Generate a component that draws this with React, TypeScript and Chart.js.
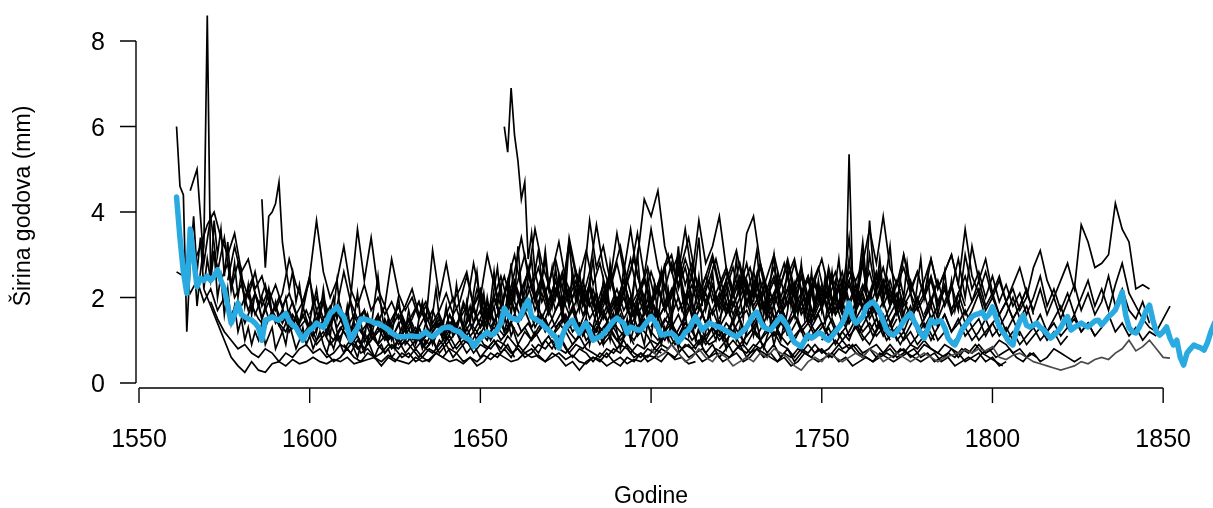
import React, { useEffect, useRef } from "react";
import { Chart, registerables } from "chart.js";

Chart.register(...registerables);

// ---- axis ticks ----
const xTickYears = [1550, 1600, 1650, 1700, 1750, 1800, 1850];
const yTickValues = [0, 2, 4, 6, 8];
const xTitle = "Godine";
const yTitle = "Širina godova (mm)";

// ---- mean chronology (blue), yearly from meanStart ----
const meanStart = 1561;
const meanValues = [
  4.35, 3.4, 2.6, 2.1, 3.6, 2.9, 2.25, 2.45, 2.4, 2.5,
  2.4, 2.5, 2.65, 2.4, 2.2, 1.8, 1.4, 1.6, 1.87, 1.6,
  1.55, 1.5, 1.47, 1.4, 1.3, 1.0, 1.47, 1.5, 1.55, 1.5,
  1.47, 1.55, 1.63, 1.45, 1.35, 1.3, 1.15, 1.0, 1.15, 1.24,
  1.3, 1.4, 1.35, 1.3, 1.45, 1.63, 1.7, 1.78, 1.65, 1.55,
  1.3, 1.0, 1.15, 1.3, 1.5, 1.5, 1.47, 1.45, 1.4, 1.4,
  1.35, 1.3, 1.25, 1.17, 1.12, 1.08, 1.08, 1.08, 1.1, 1.1,
  1.09, 1.08, 1.14, 1.2, 1.12, 1.08, 1.15, 1.22, 1.29, 1.3,
  1.31, 1.25, 1.22, 1.19, 1.1, 1.05, 1.0, 0.85, 0.95, 1.05,
  1.12, 1.19, 1.12, 1.15, 1.25, 1.4, 1.75, 1.6, 1.52, 1.5,
  1.47, 1.6, 1.8, 1.94, 1.55, 1.5, 1.45, 1.4, 1.3, 1.24,
  1.15, 1.08, 0.82, 1.1, 1.31, 1.4, 1.47, 1.3, 1.17, 1.3,
  1.4, 1.2, 1.0, 1.05, 1.08, 1.15, 1.24, 1.35, 1.45, 1.52,
  1.45, 1.4, 1.17, 1.31, 1.28, 1.24, 1.24, 1.35, 1.45, 1.55,
  1.45, 1.31, 1.12, 1.14, 1.16, 1.17, 1.1, 0.96, 1.05, 1.19,
  1.24, 1.4, 1.55, 1.4, 1.24, 1.32, 1.4, 1.37, 1.33, 1.31,
  1.27, 1.22, 1.17, 1.12, 1.08, 1.15, 1.22, 1.31, 1.45, 1.6,
  1.66, 1.45, 1.31, 1.27, 1.24, 1.35, 1.45, 1.55, 1.45, 1.31,
  1.1, 0.95, 0.9, 0.85, 1.0, 1.12, 1.05, 1.1, 1.17, 1.15,
  1.05, 1.0, 1.1, 1.2, 1.3, 1.4, 1.6, 1.87, 1.55, 1.4,
  1.47, 1.55, 1.78, 1.85, 1.9, 1.8, 1.66, 1.45, 1.24, 1.15,
  1.12, 1.2, 1.31, 1.45, 1.55, 1.63, 1.45, 1.31, 1.17, 1.05,
  1.25, 1.47, 1.4, 1.45, 1.45, 1.3, 1.05, 0.95, 0.89, 1.05,
  1.24, 1.35, 1.45, 1.55, 1.6, 1.62, 1.66, 1.52, 1.6, 1.78,
  1.55, 1.31, 1.2, 1.08, 0.95, 0.89, 1.24, 1.45, 1.59, 1.35,
  1.31, 1.35, 1.4, 1.3, 1.24, 1.15, 1.05, 1.12, 1.19, 1.3,
  1.45, 1.55, 1.24, 1.3, 1.35, 1.4, 1.35, 1.31, 1.38, 1.45,
  1.47, 1.36, 1.45, 1.55, 1.62, 1.71, 1.9, 2.13, 1.6, 1.3,
  1.2, 1.17, 1.3, 1.47, 1.7, 1.82, 1.47, 1.2, 1.12, 1.2,
  1.31, 1.05, 0.89, 1.0, 0.6, 0.42, 0.7, 0.8, 0.89, 0.85,
  0.82, 0.77, 0.95, 1.2, 1.4,
];

// ---- individual ring-width series (black) ----
const s01Start = 1561; const s01Step = 1;
const s01 = [6.0, 4.6, 4.4, 1.2, 2.8, 3.9, 2.6, 3.4, 2.2, 2.9, 2.4, 3.1, 2.0, 2.5, 1.6, 2.2, 1.4, 1.8, 1.2, 1.5, 1.0, 1.3, 0.9, 1.2, 1.0, 1.4, 0.9, 1.1, 1.3, 0.8, 1.0, 1.2, 0.9, 1.4, 1.1, 0.8, 1.0, 1.3, 0.9, 1.1, 0.8, 1.0, 1.2, 0.9, 0.7, 1.0, 0.8, 1.1, 0.9, 0.7, 0.9, 1.0, 0.8, 0.6, 0.9, 0.7, 1.0, 0.8, 0.6, 0.8, 0.9, 0.7, 0.8, 0.6, 0.7];

const s02Start = 1561; const s02Step = 2;
const s02 = [2.6, 2.5, 2.1, 2.4, 1.9, 2.2, 1.7, 2.0, 1.6, 1.9, 1.4, 1.8, 1.5, 1.3, 1.7, 1.4, 1.2, 1.6, 1.3, 1.5, 1.1, 1.4, 1.2, 1.0, 1.3, 1.1, 1.4, 1.2, 0.9, 1.1, 1.3, 1.0, 1.2, 0.9, 1.1, 0.8, 1.0, 1.2, 1.4, 1.1, 1.6, 1.3, 1.8, 1.4, 1.2, 1.5, 1.0, 1.3, 1.1, 1.4, 0.9, 1.2, 1.0, 1.3, 1.5, 1.1, 1.4, 1.2, 0.9, 1.1, 1.3, 1.0, 1.2, 1.4, 1.1, 0.9, 1.2, 1.0, 1.3, 1.1, 0.8, 1.0, 1.2, 0.9, 1.1, 1.0, 0.8, 1.1, 0.9, 1.0];

const s03Start = 1565; const s03Step = 2;
const s03 = [4.5, 5.0, 2.8, 3.9, 2.6, 3.4, 2.2, 2.8, 2.0, 2.4, 1.8, 2.3, 1.6, 2.0, 1.5, 1.9, 1.4, 1.7, 1.3, 1.6, 1.2, 1.5, 1.8, 1.3, 1.6, 1.2, 1.4, 1.1, 1.3, 1.0, 1.2, 1.5, 1.1, 1.3, 1.0, 1.2, 1.4, 1.1, 1.6, 1.2, 1.9, 1.5, 2.2, 1.7, 1.3, 1.6, 1.2, 1.4, 1.1, 1.3, 1.0, 1.2, 1.5, 1.1, 1.3, 1.6, 1.2, 1.4, 1.0, 1.2, 0.9, 1.1, 1.3, 1.0, 1.2, 0.9];

const s04Start = 1566; const s04Step = 1;
const s04 = [3.0, 1.8, 2.6, 3.2, 8.6, 2.4, 3.8, 3.0, 3.6, 2.5, 3.3, 2.2, 2.8, 2.0, 2.6, 1.8, 2.3, 1.6, 2.1, 1.9, 1.5, 1.8, 2.2, 1.6, 1.9, 1.4, 1.7, 2.0, 1.5, 1.3, 1.6, 1.4, 1.8, 1.5, 1.2, 1.4, 1.7, 1.3, 1.5, 1.1, 1.4, 1.6, 1.2, 1.0, 1.3, 1.5, 1.2, 1.4, 1.1, 0.9, 1.2, 1.0, 1.3, 1.1, 0.9, 1.2, 1.4, 1.0, 1.2, 0.8, 1.1, 1.3, 0.9, 1.0, 1.2, 0.9, 1.1, 0.8, 1.0, 0.9, 1.1, 0.8, 1.0, 0.9, 0.7];

const s05Start = 1569; const s05Step = 2;
const s05 = [2.2, 1.8, 1.4, 1.0, 0.6, 0.4, 0.25, 0.5, 0.3, 0.25, 0.45, 0.5, 0.4, 0.55, 0.45, 0.5, 0.6, 0.5, 0.45, 0.55, 0.5, 0.6, 0.45, 0.5, 0.55, 0.6, 0.5, 0.65, 0.55, 0.5, 0.45, 0.6, 0.5, 0.55, 0.7, 0.6, 0.5, 0.55, 0.45, 0.6, 0.5, 0.65, 0.55, 0.7, 0.6, 0.5, 0.55, 0.7, 0.6, 0.65, 0.5, 0.6, 0.7, 0.55, 0.65, 0.5, 0.45, 0.6, 0.55, 0.4, 0.5, 0.6, 0.45, 0.55, 0.5, 0.65, 0.6, 0.5, 0.7, 0.55, 0.6, 0.45, 0.5];

const s06Start = 1566; const s06Step = 2;
const s06 = [2.8, 3.2, 3.7, 4.0, 3.4, 3.0, 3.5, 2.6, 2.9, 2.2, 2.5, 1.9, 2.3, 1.8, 2.1, 1.6, 1.9, 2.4, 1.7, 2.0, 1.5, 1.8, 2.6, 1.9, 1.5, 1.7, 1.3, 1.6, 1.2, 1.5, 1.8, 1.4, 1.1, 1.3, 1.6, 1.2, 1.4, 1.0, 1.3, 1.5, 1.1, 1.4, 1.7, 1.3, 2.0, 1.6, 2.4, 1.9, 1.5, 1.8, 1.3, 1.6, 1.2, 1.4, 1.7, 1.3, 1.5, 1.1, 1.4, 1.2, 1.6, 1.3, 1.0, 1.2, 1.5, 1.1, 1.3, 1.6, 1.2, 1.0, 1.3, 1.1, 1.4, 1.2, 0.9, 1.1, 1.3, 1.0, 1.2, 1.4, 1.1, 0.9, 1.2, 1.0, 1.3, 1.1, 1.4, 1.2, 1.0, 1.3];

const s07Start = 1571; const s07Step = 2;
const s07 = [1.9, 1.5, 1.2, 1.0, 0.8, 0.9, 0.7, 0.6, 0.8, 0.7, 0.5, 0.7, 0.6, 0.8, 0.9, 0.7, 0.8, 0.6, 0.7, 0.9, 0.8, 1.0, 0.7, 0.8, 0.6, 0.7, 0.9, 0.8, 0.6, 0.7, 0.5, 0.6, 0.8, 0.7, 0.9, 1.1, 0.8, 1.0, 0.9, 1.2, 0.9, 0.8, 1.0, 0.9, 0.7, 0.8, 0.6, 0.7, 0.9, 0.8, 1.0, 0.8, 0.7, 0.9, 1.1, 0.8, 0.7, 0.6, 0.8, 0.7, 0.9, 0.8, 0.6, 0.7, 0.5, 0.6, 0.8, 0.7, 0.6, 0.8, 0.9, 0.7, 0.8, 0.6, 0.7, 0.5, 0.6, 0.7, 0.5, 0.6, 0.8, 0.7, 0.6, 0.5, 0.7, 0.6, 0.8, 0.7, 0.6, 0.5, 0.6, 0.7, 0.5, 0.6, 0.4, 0.5, 0.6, 0.5, 0.7, 0.6, 0.5, 0.6, 0.7, 0.8, 0.6, 0.7, 0.5, 0.6, 0.7, 0.6, 0.8, 0.7, 0.9, 0.7, 0.8, 0.6, 0.7, 0.8, 0.6, 0.5, 0.7, 0.6];

const s08Start = 1586; const s08Step = 1;
const s08 = [4.3, 2.7, 3.9, 4.0, 4.2, 4.7, 3.3, 2.7, 2.2, 2.6, 1.9, 2.3, 1.7, 2.1, 2.5, 1.8, 2.2, 1.6, 1.9, 1.4, 1.7, 2.0, 1.5, 1.8, 1.3, 1.6, 1.9, 1.4, 1.2, 1.5, 1.7, 1.3, 1.1, 1.4, 1.6, 1.2, 1.5, 1.3, 1.0, 1.2, 1.4, 1.1, 1.3, 1.5, 1.2, 1.0, 1.3, 1.1, 1.4, 1.2, 0.9, 1.1, 1.3, 1.0, 1.2, 1.4, 1.1, 1.3, 1.6, 1.2, 1.5, 1.8, 1.4, 1.7, 2.1, 1.6, 1.9, 1.5, 1.8, 1.3, 1.6, 1.2, 1.5, 1.1, 1.3];

const s09Start = 1576; const s09Step = 2;
const s09 = [2.4, 3.2, 2.5, 2.0, 2.6, 1.8, 2.2, 1.7, 2.1, 2.9, 2.3, 1.9, 2.5, 3.8, 2.6, 2.0, 2.4, 3.2, 2.2, 1.8, 2.3, 1.7, 2.0, 1.6, 1.9, 1.5, 1.8, 2.2, 1.6, 1.9, 1.4, 1.7, 2.1, 1.6, 1.9, 2.5, 1.8, 2.2, 1.7, 2.0, 1.5, 1.8, 2.3, 1.7, 2.1, 2.6, 1.9, 2.3, 1.7, 2.0, 1.6, 1.9, 2.4, 1.8, 2.1, 1.5, 1.8, 2.2, 1.7, 2.0, 1.6, 1.9, 1.5, 1.7];

const s10Start = 1580; const s10Step = 2;
const s10 = [1.8, 2.2, 1.6, 2.0, 1.5, 1.8, 1.4, 1.7, 1.3, 1.6, 1.2, 1.5, 1.9, 1.4, 1.7, 1.3, 2.0, 3.6, 2.4, 3.4, 2.2, 1.8, 2.9, 2.1, 1.7, 2.0, 1.5, 1.8, 1.3, 1.6, 1.2, 1.5, 1.1, 1.4, 1.7, 1.3, 1.6, 2.0, 1.5, 1.8, 2.4, 1.9, 2.3, 1.7, 2.1, 1.6, 2.0, 2.5, 1.8, 2.2, 1.6, 1.9, 1.4, 1.7, 1.3, 1.6, 1.2, 1.5, 1.8, 1.4, 1.6, 1.2, 1.5, 1.3, 1.1, 1.4, 1.2, 1.5, 1.0, 1.3, 1.1, 1.4, 1.2, 0.9, 1.1, 1.3, 1.0, 1.2, 1.4, 1.1, 1.3, 1.0];

const s11Start = 1590; const s11Step = 2;
const s11 = [1.5, 1.2, 1.6, 1.3, 1.0, 1.2, 0.9, 1.1, 1.4, 1.0, 1.2, 0.9, 1.1, 0.8, 1.0, 1.3, 1.0, 1.2, 0.9, 1.1, 1.4, 1.0, 0.8, 1.0, 1.2, 0.9, 1.1, 1.3, 1.0, 1.2, 1.5, 1.1, 1.3, 1.0, 1.2, 1.6, 1.2, 1.4, 1.1, 1.3, 1.7, 1.3, 1.5, 1.2, 1.0, 1.3, 1.1, 1.4, 1.2, 1.6, 1.3, 1.1, 1.4, 1.2, 1.5, 1.2, 1.0, 1.2, 1.4, 1.1, 1.3, 1.0, 1.2, 0.9, 1.1, 1.3, 1.0, 1.2, 1.5, 1.1, 1.3, 1.6, 1.2, 1.4, 1.1, 0.9, 1.1, 1.3, 1.0, 1.2, 1.4, 1.1, 1.3, 1.0, 1.2, 1.5, 1.2, 1.4, 1.1, 1.3, 1.0];

const s12Start = 1600; const s12Step = 2;
const s12 = [1.6, 2.0, 1.5, 1.8, 1.3, 1.6, 1.2, 1.4, 1.7, 1.3, 1.5, 1.1, 1.4, 1.8, 1.3, 1.6, 1.9, 1.4, 3.1, 2.0, 2.8, 1.9, 2.2, 2.6, 1.8, 2.1, 1.6, 2.0, 2.5, 1.9, 2.3, 1.8, 2.7, 2.0, 2.4, 1.8, 2.2, 1.7, 2.1, 2.6, 1.9, 2.3, 1.7, 2.0, 1.6, 1.9, 2.4, 1.8, 2.1, 1.6, 1.9, 1.5, 1.8, 2.2, 1.7, 2.0, 1.6, 1.8, 1.4, 1.7, 2.1, 1.6, 1.9, 1.5, 1.7, 1.3, 1.6, 1.2, 1.5, 1.8, 1.4, 1.6, 1.3, 1.5, 1.2, 1.4, 1.1];

const s13Start = 1610; const s13Step = 2;
const s13 = [0.9, 0.7, 1.0, 0.8, 1.1, 0.9, 0.7, 0.9, 0.8, 1.0, 0.8, 0.6, 0.8, 0.7, 0.9, 1.1, 0.8, 1.0, 0.7, 0.9, 0.6, 0.8, 1.0, 0.8, 1.1, 0.9, 0.7, 0.9, 1.2, 0.9, 1.1, 0.8, 1.0, 0.7, 0.9, 0.8, 1.0, 1.3, 0.9, 1.1, 0.8, 1.0, 0.7, 0.9, 0.8, 1.0, 0.9, 1.2, 0.9, 0.7, 0.9, 0.8, 1.0, 0.7, 0.9, 0.6, 0.8, 1.0, 0.8, 0.7, 0.9, 0.8, 1.0, 1.2, 0.9, 0.8, 0.6, 0.8, 0.7, 0.9, 0.7, 0.8, 1.0, 0.8, 0.9, 0.7, 0.6, 0.8, 0.9, 0.7, 0.8, 0.6, 0.7, 0.9, 0.8, 1.0, 0.8, 0.7, 0.9, 0.8, 0.6, 0.8, 0.7, 0.9, 0.7, 0.8, 1.0, 0.9, 0.7, 0.8, 0.6, 0.7, 0.5, 0.6, 0.8, 0.7, 0.6, 0.5, 0.6];

const s14Start = 1620; const s14Step = 2;
const s14 = [1.4, 1.8, 1.3, 1.6, 1.2, 1.5, 1.9, 1.4, 1.7, 1.3, 1.6, 2.0, 1.5, 1.8, 2.8, 2.0, 3.0, 2.3, 1.8, 2.4, 3.0, 2.2, 2.6, 1.9, 2.3, 1.7, 2.1, 2.6, 2.0, 2.4, 1.8, 2.2, 1.6, 1.9, 2.5, 1.8, 2.2, 2.9, 2.1, 2.5, 1.9, 2.3, 1.7, 2.0, 2.6, 1.9, 2.3, 1.7, 2.1, 1.6, 1.9, 2.4, 1.8, 2.2, 2.8, 2.0, 2.4, 1.8, 2.1, 1.6, 1.9, 2.3, 1.7, 2.0, 1.5, 1.8, 2.2, 1.6, 1.9, 1.4, 1.7, 2.1, 1.6, 1.9, 2.4, 1.8, 2.1, 1.5, 1.8, 1.3];

const s15Start = 1630; const s15Step = 2;
const s15 = [1.0, 1.3, 0.9, 1.2, 1.5, 1.1, 1.4, 1.0, 1.3, 0.9, 1.2, 1.0, 1.4, 1.8, 1.3, 1.6, 2.2, 1.7, 2.1, 1.5, 1.9, 2.4, 1.8, 2.2, 1.6, 2.0, 1.5, 1.8, 2.3, 1.7, 2.0, 1.5, 1.8, 1.3, 1.6, 2.0, 1.5, 1.8, 1.3, 1.6, 1.2, 1.5, 1.9, 1.4, 1.7, 1.3, 1.6, 2.1, 1.6, 1.9, 1.4, 1.7, 1.2, 1.5, 1.8, 1.3, 1.6, 1.2, 1.4, 1.1, 1.3, 1.6, 1.2, 1.5, 1.1, 1.3, 1.0, 1.2, 1.5, 1.1, 1.4, 1.0, 1.2, 0.9, 1.1, 1.4, 1.0, 1.3, 1.6, 1.2, 1.5, 1.1, 1.3, 1.0, 1.2, 1.4, 1.1, 1.3, 1.0, 1.2, 0.9, 1.1, 1.3, 1.0, 1.2, 0.9, 1.1];

const s16Start = 1657; const s16Step = 1;
const s16 = [6.0, 5.4, 6.9, 5.8, 5.2, 4.3, 4.7, 2.9, 3.5, 2.6, 3.1, 2.4, 2.9, 2.2, 2.7, 2.0, 2.5, 1.9, 2.3, 1.8, 2.6, 2.1, 1.7, 2.2, 1.9, 2.4, 1.8, 2.1, 1.6, 2.0, 2.3, 1.7, 1.9, 1.5, 1.8, 2.2, 1.7, 2.0, 1.6, 1.9, 1.4, 1.7, 2.0, 1.5];

const s17Start = 1640; const s17Step = 2;
const s17 = [1.2, 1.5, 1.1, 1.4, 1.8, 1.3, 1.6, 2.0, 1.5, 1.9, 2.6, 3.4, 2.5, 3.6, 2.8, 2.3, 2.9, 2.2, 3.3, 2.5, 2.0, 2.6, 3.7, 2.7, 2.2, 2.8, 2.1, 2.6, 3.5, 2.5, 3.6, 2.7, 2.2, 2.8, 2.3, 2.9, 2.4, 2.0, 2.5, 3.0, 2.3, 2.7, 2.1, 2.5, 1.9, 2.3, 2.8, 2.1, 2.5, 1.9, 2.2, 1.8, 2.1, 2.5, 1.9, 2.2, 1.7, 2.0, 1.6, 1.9, 1.5, 1.8, 2.1, 1.6, 1.9, 1.4, 1.7, 2.0, 1.5, 1.8, 1.3, 1.6];

const s18Start = 1680; const s18Step = 2;
const s18 = [1.8, 2.3, 1.7, 2.1, 2.6, 1.9, 2.4, 1.8, 2.9, 4.3, 3.9, 4.5, 3.2, 2.6, 3.0, 2.3, 2.8, 2.1, 2.5, 1.9, 2.3, 1.7, 2.1, 2.5, 1.9, 2.2, 1.7, 2.0, 1.5, 1.8, 2.2, 1.6, 1.9, 1.4, 1.7, 2.1, 1.6, 1.9, 1.4, 1.6, 1.3, 1.5, 1.8, 1.3, 1.6, 1.2, 1.5];

const s19Start = 1650; const s19Step = 2;
const s19 = [1.5, 1.9, 1.4, 1.8, 2.3, 1.7, 2.1, 2.6, 2.0, 2.5, 1.9, 2.4, 1.8, 3.4, 2.6, 2.2, 3.8, 2.7, 3.2, 2.4, 3.5, 2.6, 3.6, 2.5, 2.0, 2.6, 2.1, 2.7, 3.0, 2.2, 2.7, 2.0, 2.4, 1.9, 2.3, 1.8, 2.2, 2.7, 2.0, 2.4, 1.8, 2.1, 1.6, 2.0, 2.4, 1.8, 2.1, 1.6, 1.9, 1.5, 1.8, 2.2, 1.6, 1.9, 1.4, 1.7, 2.0, 1.5, 1.8, 1.3, 1.6, 1.9, 1.4, 1.7, 1.2, 1.5, 1.8, 1.3, 1.6, 1.2, 1.4, 1.7, 1.3, 1.5, 1.1, 1.4, 1.6, 1.2, 1.5, 1.1];

const s20Start = 1665; const s20Step = 2;
const s20 = [0.9, 0.7, 1.0, 0.8, 1.1, 0.8, 0.6, 0.8, 0.7, 0.5, 0.7, 0.6, 0.8, 0.7, 0.9, 0.7, 0.6, 0.8, 0.7, 0.9, 0.8, 1.0, 0.8, 0.6, 0.7, 0.5, 0.6, 0.8, 0.7, 0.6, 0.8, 0.9, 0.7, 0.8, 0.6, 0.7, 0.5, 0.6, 0.4, 0.5, 0.7, 0.6, 0.8, 0.7, 0.6, 0.8, 0.7, 0.9, 0.7, 0.6, 0.5, 0.6, 0.7, 0.6, 0.8, 0.7, 0.6, 0.5, 0.6, 0.7, 0.5, 0.6, 0.4, 0.5, 0.6, 0.5, 0.7, 0.6, 0.5, 0.4];

const s21Start = 1690; const s21Step = 2;
const s21 = [1.6, 2.0, 1.5, 1.9, 2.4, 1.8, 2.2, 1.7, 2.1, 2.6, 3.6, 2.5, 3.8, 2.8, 3.2, 3.9, 2.7, 2.2, 2.8, 2.1, 2.6, 2.0, 2.5, 3.0, 2.3, 2.8, 2.1, 2.5, 1.9, 2.4, 2.9, 2.2, 2.6, 2.0, 2.4, 1.9, 2.3, 1.8, 2.2, 2.7, 2.0, 2.4, 1.8, 2.1, 1.7, 2.0, 2.5, 1.9, 2.3, 1.7, 2.1, 1.6, 1.9, 2.4, 1.8, 2.1, 1.6, 1.9, 1.5, 1.8, 2.2];

const s22Start = 1700; const s22Step = 2;
const s22 = [1.3, 1.7, 1.2, 1.6, 2.0, 1.5, 1.9, 1.4, 1.8, 2.3, 1.7, 2.1, 1.6, 2.0, 3.5, 3.9, 2.8, 2.2, 2.7, 2.0, 2.5, 2.9, 2.1, 2.4, 1.8, 2.2, 1.7, 2.1, 2.6, 1.9, 2.3, 1.7, 2.0, 2.5, 1.8, 2.2, 1.6, 1.9, 2.4, 1.8, 2.1, 1.5, 1.8, 2.2, 1.6, 1.9, 1.4, 1.7, 2.1, 1.5, 1.8, 1.3, 1.6, 2.0, 1.5, 1.8, 1.3, 1.6, 1.2, 1.5, 1.8, 1.3, 1.6, 1.2, 1.4, 1.1];

const s23Start = 1720; const s23Step = 2;
const s23 = [1.5, 1.9, 1.4, 1.8, 2.3, 1.7, 2.0, 1.5, 1.8, 2.3, 2.9, 2.2, 2.7, 2.0, 2.4, 1.8, 2.1, 1.7, 2.0, 2.6, 2.4, 2.8, 3.6, 2.8, 3.9, 2.7, 2.3, 2.7, 2.1, 2.6, 2.0, 2.4, 1.8, 2.2, 1.7, 2.1, 2.5, 1.9, 2.2, 1.7, 2.0, 1.6, 1.9, 1.5, 1.8, 2.2, 1.6];

const s24Start = 1745; const s24Step = 1;
const s24 = [1.6, 2.0, 1.5, 1.9, 2.3, 1.7, 2.1, 2.6, 1.9, 2.2, 1.8, 2.4, 2.0, 5.35, 2.5, 1.9, 2.3, 2.8, 2.2, 3.0, 2.5, 2.1, 2.6, 1.9, 2.3, 1.8, 2.2, 1.7, 2.0, 1.6, 1.9];

const s25Start = 1740; const s25Step = 2;
const s25 = [1.4, 1.8, 2.5, 1.9, 2.3, 1.7, 2.7, 2.0, 2.4, 1.8, 2.2, 1.7, 2.1, 2.6, 2.0, 2.4, 1.8, 3.0, 2.3, 1.9, 2.4, 2.9, 2.2, 2.6, 3.0, 2.3, 3.6, 2.5, 2.1, 2.6, 2.0, 2.4, 1.9, 2.2, 1.7, 2.0, 2.7, 3.1, 2.4, 2.0, 2.4, 2.8, 2.2, 3.7, 3.3, 2.7, 2.8, 3.0, 4.2, 3.6, 3.3, 2.2, 2.3, 2.2];

const s26Start = 1780; const s26Step = 2;
const s26 = [1.6, 2.0, 1.5, 1.9, 2.3, 1.7, 3.0, 2.2, 2.6, 2.0, 2.5, 1.9, 2.3, 1.8, 2.1, 1.6, 2.0, 2.5, 1.8, 2.2, 1.7, 2.1, 1.6, 2.0, 2.4, 1.8, 2.2, 1.7, 2.3, 2.8, 2.1, 1.8, 1.5, 1.3, 1.2, 1.5, 1.8];

const s27Start = 1770; const s27Step = 2;
const s27 = [1.3, 1.7, 1.2, 1.6, 2.0, 1.5, 1.9, 2.4, 1.8, 2.2, 2.9, 2.0, 3.2, 2.4, 2.9, 2.1, 2.5, 1.9, 2.3, 2.7, 2.1, 1.7, 2.2, 1.6, 2.0, 1.5, 1.9, 2.3, 1.7, 2.1, 1.6, 1.9, 2.5, 1.8, 2.2, 1.7, 1.5, 1.9, 1.4];

const s28Start = 1750; const s28Step = 2;
const s28 = [1.0, 1.3, 0.9, 1.2, 1.0, 1.4, 1.1, 0.9, 1.2, 1.5, 1.1, 1.3, 1.0, 1.2, 0.9, 1.1, 1.4, 1.0, 1.2, 0.9, 1.1, 1.3, 1.0, 1.2, 1.5, 1.1, 1.3, 1.0, 1.2, 0.9, 1.1, 1.3, 1.0, 1.2, 1.4, 1.1, 1.3, 1.5, 1.2, 1.4, 1.1, 1.3, 1.6, 1.2, 1.4, 1.1, 1.3, 1.0, 1.2, 1.1];

const s29Start = 1645; const s29Step = 2;
const s29 = [1.1, 1.4, 1.0, 1.3, 1.7, 1.2, 1.5, 1.9, 1.4, 1.7, 1.3, 1.6, 1.2, 1.5, 1.9, 1.4, 1.7, 1.2, 1.5, 1.1, 1.4, 1.8, 1.3, 1.6, 1.2, 1.5, 2.0, 1.5, 1.8, 1.3, 1.6, 1.1, 1.4, 1.8, 1.3, 1.6, 1.2, 1.4, 1.0, 1.3, 1.7, 1.2, 1.5, 1.1, 1.4, 1.8, 1.3, 1.6, 1.2, 1.5, 1.0, 1.3, 1.6, 1.2, 1.5, 1.1, 1.3, 1.7, 1.2, 1.5, 1.1, 1.4, 1.0, 1.2, 0.9, 1.2, 1.5, 1.1, 1.3, 1.0];

const s30Start = 1655; const s30Step = 2;
const s30 = [2.0, 2.5, 1.9, 2.4, 3.0, 2.2, 2.7, 2.1, 2.6, 3.3, 2.4, 2.0, 2.5, 3.1, 2.3, 2.8, 2.1, 2.6, 3.2, 2.4, 2.9, 2.2, 2.7, 2.0, 2.5, 3.0, 2.3, 2.8, 3.4, 2.5, 2.0, 2.4, 2.9, 2.2, 2.6, 3.1, 2.3, 2.7, 2.0, 2.4, 1.9, 2.3, 2.8, 2.1, 2.5, 1.9, 2.3, 2.7, 2.0, 2.4, 1.8, 2.2, 2.6, 2.0, 2.3, 1.7, 2.1, 2.5, 1.9, 2.2];

const s31Start = 1605; const s31Step = 2;
const s31 = [0.7, 0.5, 0.6, 0.8, 0.6, 0.5, 0.7, 0.6, 0.4, 0.6, 0.5, 0.7, 0.6, 0.8, 0.6, 0.5, 0.7, 0.6, 0.8, 0.7, 0.5, 0.6, 0.4, 0.5, 0.7, 0.6, 0.8, 0.6, 0.9, 0.7, 0.8, 0.6, 0.5, 0.7, 0.6, 0.4, 0.5, 0.3, 0.5, 0.6, 0.5, 0.7, 0.5, 0.4, 0.6, 0.5, 0.7, 0.6, 0.8, 0.7];

const s32Start = 1675; const s32Step = 2;
const s32 = [1.4, 1.8, 1.3, 1.7, 2.2, 1.6, 2.0, 1.5, 1.9, 2.4, 1.8, 2.2, 1.6, 2.0, 2.6, 1.9, 2.3, 1.7, 2.1, 1.5, 1.9, 2.4, 1.8, 2.2, 1.6, 2.0, 2.6, 1.9, 2.3, 1.7, 2.1, 1.5, 1.8, 2.3, 1.7, 2.0, 1.4, 1.8, 2.2, 1.6, 1.9, 1.4, 1.7, 2.1, 1.5, 1.8, 1.3, 1.6, 2.0, 1.4];

const s33Start = 1700; const s33Step = 2;
const s33 = [1.8, 2.3, 1.7, 2.1, 2.7, 2.0, 2.5, 1.9, 2.3, 2.9, 2.2, 2.6, 2.0, 2.4, 1.8, 2.2, 2.7, 2.0, 2.4, 1.8, 2.2, 2.8, 2.1, 2.5, 1.9, 2.3, 2.0, 2.4, 1.9, 2.3, 1.8, 2.2, 2.6, 2.0, 2.4, 1.9, 2.3, 3.0, 2.2, 2.6, 2.0, 2.9, 2.2, 2.6, 3.0, 2.3, 1.8];

const s34Start = 1720; const s34Step = 2;
const s34 = [0.8, 1.0, 0.7, 0.9, 0.6, 0.8, 1.0, 0.7, 0.9, 0.6, 0.8, 0.5, 0.7, 0.9, 0.7, 0.8, 0.6, 0.8, 1.0, 0.8, 0.9, 0.7, 0.8, 0.6, 0.7, 0.9, 0.7, 0.8, 0.6, 0.7, 0.9, 0.8, 0.7, 0.6, 0.8, 0.7, 0.5, 0.6, 0.7, 0.5, 0.6, 0.4, 0.5];

const s35Start = 1572; const s35Step = 2;
const s35 = [3.0, 2.4, 2.8, 2.0, 2.3, 1.7, 2.1, 1.5, 1.9, 1.4, 1.7, 1.2, 1.5, 1.1, 1.4, 1.0, 1.2, 0.9, 1.1, 1.4, 1.0, 0.8, 1.0, 1.2, 0.9, 1.1, 0.8, 1.0, 0.7, 0.9, 1.1, 0.8, 1.0, 0.7, 0.9, 0.6, 0.8, 1.0, 0.7, 0.9, 0.8, 1.0, 0.7, 0.9, 0.6];

const s36Start = 1650; const s36Step = 1;
const s36 = [1.6, 2.1, 1.4, 1.9, 2.6, 1.8, 2.3, 1.5, 2.0, 2.8, 1.9, 3.2, 2.2, 1.7, 2.5, 2.9, 2.0, 1.6, 2.4, 3.1, 2.3, 1.8, 2.7, 2.1, 1.5, 2.2, 3.3, 2.4, 1.9, 2.6, 2.0, 1.6, 2.3, 2.9, 2.1, 1.7, 2.4, 1.8, 2.8, 2.2, 1.6, 2.0, 2.7, 1.9, 1.5, 2.3, 3.0, 2.1, 1.7, 2.5, 1.9, 1.4, 2.0, 2.6, 1.8, 2.2, 1.6, 2.4, 3.2, 2.3, 1.8, 2.1, 1.5, 1.9, 2.5, 1.8];

const s37Start = 1700; const s37Step = 1;
const s37 = [1.7, 2.3, 1.5, 2.0, 2.8, 1.9, 1.4, 2.2, 3.0, 2.1, 1.6, 2.5, 1.8, 2.7, 3.4, 2.3, 1.7, 2.0, 2.6, 1.8, 1.3, 1.9, 2.4, 1.7, 2.2, 2.9, 2.0, 1.5, 2.3, 1.8, 2.6, 3.1, 2.2, 1.6, 2.0, 1.4, 1.9, 2.5, 1.8, 1.3, 1.7, 2.3, 1.6, 2.1, 2.8, 1.9, 1.5, 2.2, 1.7, 2.4, 1.8, 1.4, 2.0, 2.6, 1.9, 2.3, 1.7, 2.1, 2.9, 2.2, 1.6, 2.4, 3.0, 2.1, 1.8, 2.3];

const s38Start = 1730; const s38Step = 1;
const s38 = [1.9, 2.5, 1.7, 2.2, 1.6, 2.4, 3.0, 2.1, 1.5, 2.0, 2.7, 1.8, 2.3, 1.6, 2.1, 1.5, 1.9, 2.6, 1.8, 2.2, 1.7, 2.5, 2.0, 1.6, 2.3, 2.9, 2.1, 2.7, 3.4, 2.5, 1.9, 2.6, 3.3, 2.4, 3.8, 2.8, 2.2, 2.9, 2.1, 2.6, 3.2, 2.3, 1.8, 2.4, 2.0, 2.8, 2.1, 1.7, 2.3, 2.9, 2.0, 2.5, 1.8, 2.2, 1.6, 2.0, 2.6, 1.9, 2.4, 1.7, 2.1];

const s39Start = 1600; const s39Step = 1;
const s39 = [1.4, 1.9, 1.2, 1.6, 2.2, 1.5, 1.1, 1.7, 2.4, 1.6, 1.3, 1.8, 1.2, 1.5, 2.1, 1.4, 1.0, 1.6, 1.3, 1.9, 2.5, 1.7, 1.2, 1.5, 1.1, 1.6, 2.0, 1.4, 1.2, 1.7, 1.3, 1.0, 1.5, 1.9, 1.4, 1.1, 1.6, 2.2, 1.5, 1.3, 1.8, 1.2, 1.6, 2.3, 1.7, 1.3, 1.9, 1.4, 2.1, 2.6, 1.8, 1.4, 2.0, 1.5, 2.2, 2.7, 1.9, 1.5, 2.1, 1.6, 2.3];

const s40Start = 1680; const s40Step = 1;
const s40 = [1.1, 1.5, 0.9, 1.3, 1.7, 1.2, 0.9, 1.4, 1.0, 1.6, 1.2, 0.8, 1.1, 1.5, 1.0, 1.3, 1.8, 1.2, 0.9, 1.4, 1.1, 1.6, 1.2, 0.9, 1.3, 1.0, 1.5, 1.1, 0.8, 1.2, 1.6, 1.1, 1.4, 1.0, 1.3, 0.9, 1.2, 1.7, 1.2, 1.0, 1.4, 1.1, 0.8, 1.2, 1.5, 1.0, 1.3, 0.9, 1.2, 1.6, 1.1, 1.4, 1.0, 0.8, 1.1, 1.3, 0.9, 1.2, 1.0, 1.4, 1.1];

// low grey series running out to 1850
const sGreyStart = 1700; const sGreyStep = 2;
const sGrey = [0.8, 0.6, 0.7, 0.9, 0.7, 0.5, 0.6, 0.8, 0.6, 0.5, 0.7, 0.6, 0.4, 0.5, 0.6, 0.5, 0.7, 0.6, 0.8, 0.7, 0.6, 0.4, 0.3, 0.5, 0.6, 0.5, 0.7, 0.6, 0.5, 0.6, 0.7, 0.6, 0.8, 0.7, 0.5, 0.6, 0.7, 0.6, 0.5, 0.6, 0.7, 0.6, 0.5, 0.6, 0.65, 0.7, 0.77, 0.7, 0.8, 0.75, 0.85, 0.6, 0.55, 0.65, 0.7, 0.6, 0.5, 0.45, 0.4, 0.35, 0.3, 0.35, 0.4, 0.5, 0.45, 0.55, 0.6, 0.55, 0.7, 0.8, 1.0, 0.75, 0.85, 1.0, 0.8, 0.6, 0.58];

const blackSeries = [
  [s01Start, s01Step, s01], [s02Start, s02Step, s02], [s03Start, s03Step, s03],
  [s04Start, s04Step, s04], [s05Start, s05Step, s05], [s06Start, s06Step, s06],
  [s07Start, s07Step, s07], [s08Start, s08Step, s08], [s09Start, s09Step, s09],
  [s10Start, s10Step, s10], [s11Start, s11Step, s11], [s12Start, s12Step, s12],
  [s13Start, s13Step, s13], [s14Start, s14Step, s14], [s15Start, s15Step, s15],
  [s16Start, s16Step, s16], [s17Start, s17Step, s17], [s18Start, s18Step, s18],
  [s19Start, s19Step, s19], [s20Start, s20Step, s20], [s21Start, s21Step, s21],
  [s22Start, s22Step, s22], [s23Start, s23Step, s23], [s24Start, s24Step, s24],
  [s25Start, s25Step, s25], [s26Start, s26Step, s26], [s27Start, s27Step, s27],
  [s28Start, s28Step, s28], [s29Start, s29Step, s29], [s30Start, s30Step, s30],
  [s31Start, s31Step, s31], [s32Start, s32Step, s32], [s33Start, s33Step, s33],
  [s34Start, s34Step, s34], [s35Start, s35Step, s35], [s36Start, s36Step, s36],
  [s37Start, s37Step, s37], [s38Start, s38Step, s38], [s39Start, s39Step, s39],
  [s40Start, s40Step, s40],
] as [number, number, number[]][];

const FONT = '"Liberation Sans", Arial, Helvetica, sans-serif';

const toPoints = (start: number, step: number, vals: number[]) =>
  vals.map((v, i) => ({ x: start + i * step, y: v }));

const axesPlugin = {
  id: "rAxes",
  afterDraw(chart: any) {
    const { ctx, scales } = chart;
    const xs = scales.x;
    const ys = scales.y;
    ctx.save();
    ctx.strokeStyle = "#000";
    ctx.fillStyle = "#000";
    ctx.lineWidth = 1.4;
    // y axis
    const yAxisX = 136;
    const yTop = ys.getPixelForValue(yTickValues[yTickValues.length - 1]);
    const yBot = ys.getPixelForValue(yTickValues[0]);
    ctx.beginPath();
    ctx.moveTo(yAxisX, yTop);
    ctx.lineTo(yAxisX, yBot);
    yTickValues.forEach((v) => {
      const p = ys.getPixelForValue(v);
      ctx.moveTo(yAxisX, p);
      ctx.lineTo(yAxisX - 16, p);
    });
    ctx.stroke();
    ctx.font = `25px ${FONT}`;
    ctx.textAlign = "right";
    ctx.textBaseline = "alphabetic";
    yTickValues.forEach((v) => {
      const p = ys.getPixelForValue(v);
      ctx.fillText(String(v), 105, p + 9);
    });
    // x axis
    const xAxisY = 388;
    const xL = xs.getPixelForValue(xTickYears[0]);
    const xR = xs.getPixelForValue(xTickYears[xTickYears.length - 1]);
    ctx.beginPath();
    ctx.moveTo(xL, xAxisY);
    ctx.lineTo(xR, xAxisY);
    xTickYears.forEach((v) => {
      const p = xs.getPixelForValue(v);
      ctx.moveTo(p, xAxisY);
      ctx.lineTo(p, xAxisY + 15);
    });
    ctx.stroke();
    ctx.textAlign = "center";
    xTickYears.forEach((v) => {
      const p = xs.getPixelForValue(v);
      ctx.fillText(String(v), p, 447);
    });
    // titles
    ctx.font = `23px ${FONT}`;
    ctx.fillText(xTitle, (xL + xR) / 2, 503);
    ctx.translate(30, 206);
    ctx.rotate(-Math.PI / 2);
    ctx.textAlign = "center";
    ctx.fillText(yTitle, 0, 0);
    ctx.restore();
  },
};

export default function App() {
  const ref = useRef<HTMLCanvasElement | null>(null);
  useEffect(() => {
    document.body.style.margin = "0";
    const canvas = ref.current;
    if (!canvas) return;
    const datasets: any[] = [
      {
        data: toPoints(meanStart, 1, meanValues),
        borderColor: "#29ABE2",
        borderWidth: 5.5,
        order: 0,
        borderJoinStyle: "round",
        borderCapStyle: "round",
      },
      {
        data: toPoints(sGreyStart, sGreyStep, sGrey),
        borderColor: "#4a4a4a",
        borderWidth: 1.7,
        order: 1,
      },
      ...blackSeries.map(([start, step, vals]) => ({
        data: toPoints(start, step, vals),
        borderColor: "#000000",
        borderWidth: 1.7,
        order: 1,
      })),
    ];
    const chart = new Chart(canvas, {
      type: "line",
      data: { datasets },
      options: {
        animation: false,
        responsive: false,
        devicePixelRatio: 1,
        layout: { padding: { left: 139, right: 0, top: 0, bottom: 125 } },
        elements: { point: { radius: 0 }, line: { tension: 0, fill: false } },
        plugins: { legend: { display: false }, tooltip: { enabled: false } },
        scales: {
          x: { type: "linear", min: 1550, max: 1864.6, display: false },
          y: { type: "linear", min: 0, max: 8.96, display: false },
        },
      },
      plugins: [axesPlugin],
    });
    return () => chart.destroy();
  }, []);
  return (
    <div style={{ width: 1213, height: 508, background: "#fff" }}>
      <canvas ref={ref} width={1213} height={508} />
    </div>
  );
}
